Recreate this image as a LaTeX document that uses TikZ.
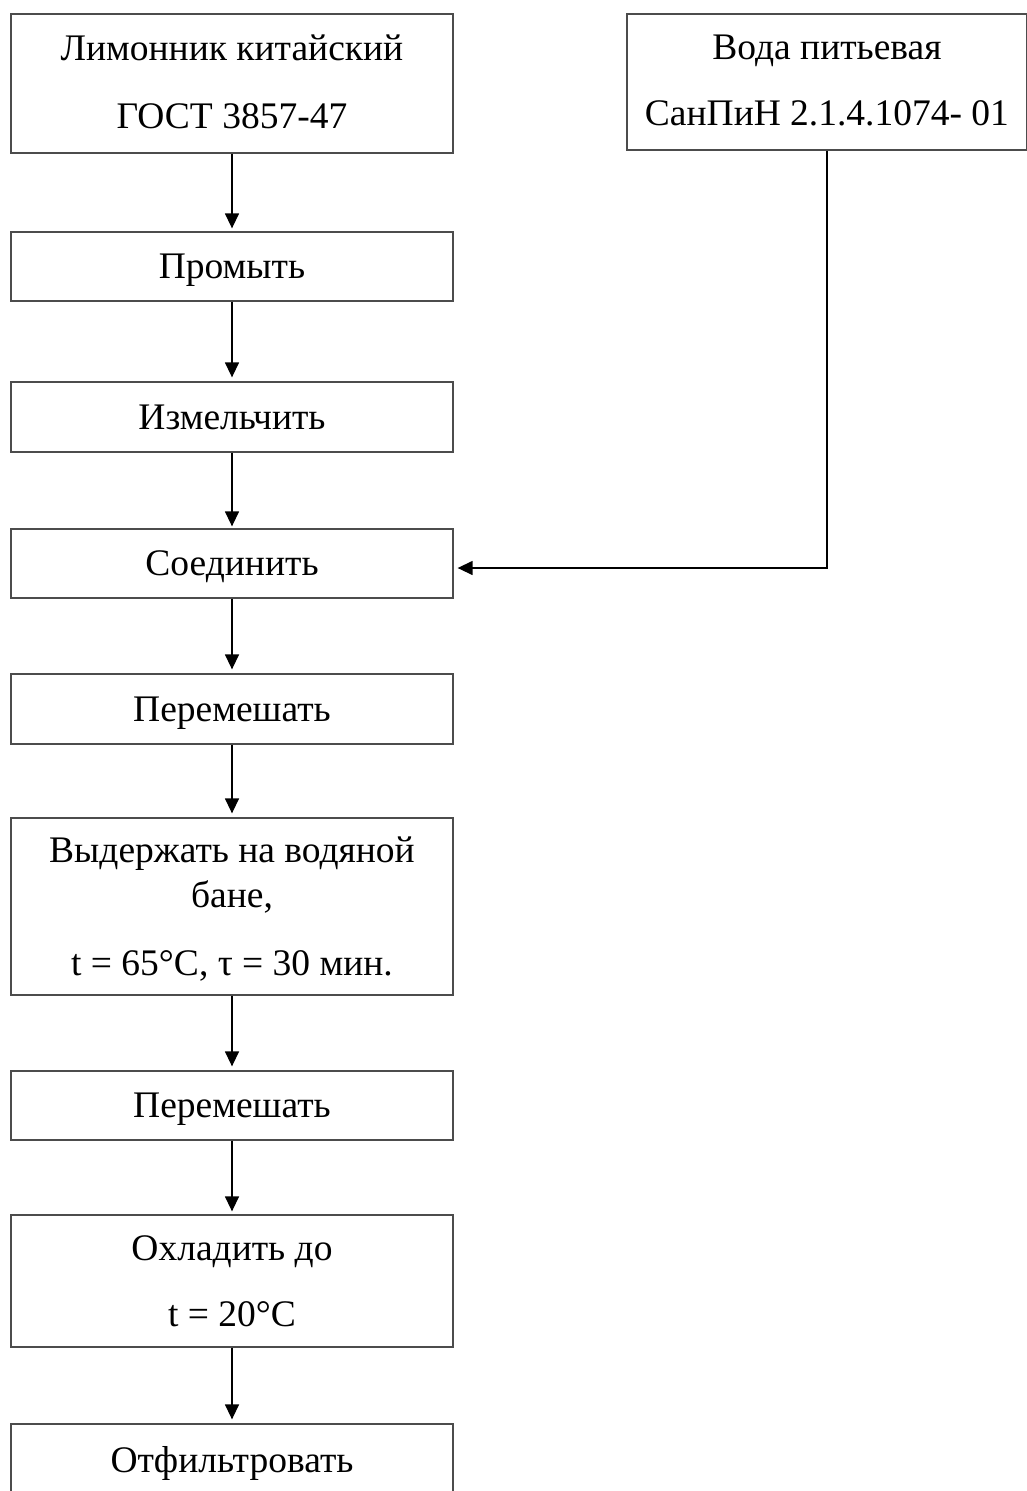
\documentclass[tikz,border=0pt]{standalone}
\usepackage{fontspec}
\setmainfont{Liberation Serif}
\usetikzlibrary{arrows.meta,calc}
\begin{document}
\begin{tikzpicture}[x=1pt,y=-1pt,
  box/.style={draw=black!70,line width=1.3pt,rectangle,inner sep=0pt,align=center,
    minimum width=442pt,font=\fontsize{37.5}{45}\selectfont},
  one/.style={box,text depth=0pt},
  arr/.style={line width=1.4pt,-{Triangle[length=15pt,width=14pt]}}]
\useasboundingbox (0,0) rectangle (1027,1491);
\node[box,minimum height=139pt,text depth=4pt] (b1) at (232,83.5) {Лимонник китайский\\[23pt]ГОСТ 3857-47};
\node[box,minimum width=400pt,minimum height=136pt,text depth=4pt] (w) at (827,82) {Вода питьевая\\[21pt]СанПиН 2.1.4.1074- 01};
\node[one,minimum height=69pt] (b2) at (232,266.5) {Промыть};
\node[one,minimum height=70pt] (b3) at (232,417) {Измельчить};
\node[one,minimum height=69pt] (b4) at (232,563.5) {Соединить};
\node[one,minimum height=70pt] (b5) at (232,709) {Перемешать};
\node[box,minimum height=177pt,text depth=-5pt] (b6) at (232,906.5) {Выдержать на водяной\\бане,\\[23pt]t = 65°C, τ = 30 мин.};
\node[one,minimum height=69pt] (b7) at (232,1105.5) {Перемешать};
\node[box,minimum height=132pt] (b8) at (232,1281) {Охладить до\\[21pt]t = 20°C};
\node[one,minimum height=70pt] (b9) at (232,1459) {Отфильтровать};
\draw[arr,shorten >=3pt] (b1) -- (b2);
\draw[arr,shorten >=4pt] (b2) -- (b3);
\draw[arr,shorten >=2pt] (b3) -- (b4);
\draw[arr,shorten >=4pt] (b4) -- (b5);
\draw[arr,shorten >=4pt] (b5) -- (b6);
\draw[arr,shorten >=4pt] (b6) -- (b7);
\draw[arr,shorten >=3pt] (b7) -- (b8);
\draw[arr,shorten >=4pt] (b8) -- (b9);
\draw[arr,shorten >=4pt] (w.south) |- ($(b4.east)+(0,4.5)$);
\end{tikzpicture}
\end{document}
